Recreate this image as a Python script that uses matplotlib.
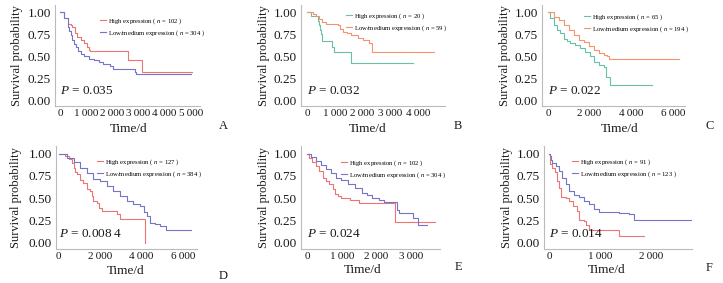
import matplotlib
matplotlib.use('Agg')
import matplotlib.pyplot as plt

# --- data (Kaplan-Meier steps) ---
a_high_t = [0, 160, 290, 410, 475, 575, 660, 790, 910, 1040, 1125, 1160, 2600, 3125, 5050]
a_high_s = [1.0, 0.93, 0.87, 0.85, 0.83, 0.77, 0.72, 0.68, 0.65, 0.61, 0.57, 0.555, 0.46, 0.32, 0.32]
a_low_t = [0, 160, 290, 350, 410, 475, 540, 600, 700, 790, 910, 1100, 1290, 1475, 1660, 1910, 2040, 2850, 2900, 5000]
a_low_s = [1.0, 0.93, 0.83, 0.79, 0.74, 0.68, 0.64, 0.60, 0.56, 0.53, 0.50, 0.47, 0.46, 0.44, 0.41, 0.385, 0.36, 0.32, 0.30, 0.30]

b_high_t = [0, 150, 380, 430, 470, 510, 550, 900, 960, 1580, 3820]
b_high_s = [1.0, 0.96, 0.90, 0.85, 0.80, 0.75, 0.67, 0.61, 0.55, 0.42, 0.42]
b_low_t = [0, 200, 320, 430, 550, 670, 1130, 1190, 1310, 1430, 1600, 1840, 2010, 2245, 2360, 4600]
b_low_s = [1.0, 0.98, 0.96, 0.92, 0.89, 0.87, 0.85, 0.81, 0.78, 0.76, 0.74, 0.71, 0.69, 0.65, 0.55, 0.55]

c_high_t = [0, 112, 272, 433, 593, 753, 913, 1074, 1314, 1554, 1795, 2035, 2195, 2436, 2676, 2788, 2997, 5000]
c_high_s = [1.0, 0.935, 0.86, 0.80, 0.76, 0.70, 0.67, 0.65, 0.63, 0.59, 0.55, 0.50, 0.44, 0.40, 0.38, 0.27, 0.17, 0.17]
c_low_t = [0, 272, 513, 753, 994, 1234, 1474, 1715, 1955, 2195, 2436, 2676, 2837, 2917, 6300]
c_low_s = [1.0, 0.95, 0.91, 0.86, 0.80, 0.74, 0.69, 0.66, 0.62, 0.57, 0.54, 0.52, 0.50, 0.47, 0.47]

d_high_t = [0, 320, 480, 640, 720, 800, 880, 1040, 1200, 1360, 1520, 1600, 1680, 1840, 1968, 2080, 2832, 2960, 4150]
d_high_s = [1.0, 0.97, 0.94, 0.90, 0.84, 0.79, 0.77, 0.71, 0.67, 0.60, 0.58, 0.52, 0.47, 0.45, 0.39, 0.36, 0.32, 0.27, 0.0]
d_low_t = [0, 400, 720, 1040, 1360, 1680, 2000, 2320, 2640, 2960, 3280, 3600, 3920, 4112, 4240, 4400, 4640, 4880, 5200, 6400]
d_low_s = [1.0, 0.955, 0.91, 0.84, 0.78, 0.72, 0.69, 0.64, 0.58, 0.52, 0.47, 0.43, 0.41, 0.34, 0.30, 0.22, 0.21, 0.19, 0.14, 0.14]

e_high_t = [0, 49, 147, 246, 344, 442, 541, 639, 737, 806, 885, 964, 1229, 1495, 2530, 3690]
e_high_s = [1.0, 0.955, 0.91, 0.86, 0.81, 0.73, 0.69, 0.66, 0.60, 0.55, 0.52, 0.50, 0.48, 0.45, 0.23, 0.23]
e_low_t = [0, 98, 246, 393, 541, 688, 836, 983, 1180, 1377, 1573, 1721, 1868, 2065, 2212, 2580, 2640, 3050, 3200, 3450]
e_low_s = [1.0, 0.96, 0.92, 0.87, 0.83, 0.78, 0.73, 0.70, 0.66, 0.62, 0.56, 0.54, 0.50, 0.48, 0.46, 0.37, 0.33, 0.28, 0.20, 0.20]

f_high_t = [0, 13, 66, 118, 164, 197, 230, 328, 393, 459, 538, 577, 689, 721, 787, 1377, 1869]
f_high_s = [1.0, 0.88, 0.84, 0.79, 0.69, 0.62, 0.51, 0.50, 0.47, 0.41, 0.36, 0.25, 0.24, 0.20, 0.14, 0.08, 0.08]
f_low_t = [0, 13, 33, 66, 131, 197, 262, 328, 393, 492, 590, 689, 787, 885, 984, 1377, 1574, 1672, 2800]
f_low_s = [1.0, 0.97, 0.93, 0.90, 0.86, 0.81, 0.73, 0.66, 0.58, 0.54, 0.51, 0.47, 0.43, 0.38, 0.35, 0.33, 0.32, 0.26, 0.26]

n_high = [102, 20, 65, 127, 102, 91]
n_low = [304, 59, 194, 384, 304, 123]
p_values = ['0.035', '0.032', '0.022', '0.008\u20094', '0.024', '0.014']
letters = ['A', 'B', 'C', 'D', 'E', 'F']
y_ticks = [0.0, 0.25, 0.5, 0.75, 1.0]
x_ticks = [[0, 1000, 2000, 3000, 4000, 5000], [0, 1000, 2000, 3000, 4000],
           [0, 2000, 4000, 6000], [0, 2000, 4000, 6000],
           [0, 1000, 2000, 3000], [0, 1000, 2000]]

curves = [(a_high_t, a_high_s, a_low_t, a_low_s),
          (b_high_t, b_high_s, b_low_t, b_low_s),
          (c_high_t, c_high_s, c_low_t, c_low_s),
          (d_high_t, d_high_s, d_low_t, d_low_s),
          (e_high_t, e_high_s, e_low_t, e_low_s),
          (f_high_t, f_high_s, f_low_t, f_low_s)]

# --- layout (pixels) ---
W, H = 723, 283
boxes = [(55, 200, 5, 106), (301, 445, 5, 106), (542, 685, 5, 106),
         (56, 197, 146, 249), (301, 440, 146, 249), (544, 692, 146, 249)]
xlims = [(-190, 5350), (-220, 4980), (-290, 6590), (-125, 6670), (-180, 3830), (-100, 2800)]
ylims = [(-0.065, 1.083)] * 3 + [(-0.071, 1.087)] * 3
legend_xy = [(100, 16), (346, 11), (584, 12), (97, 157), (341, 158), (572, 157)]
ylabel_x = [17, 264, 505, 16, 264, 507]
xlabel_xy = [(129, 129), (368, 129), (620, 129), (126, 271), (363, 270), (607, 270)]
letter_xy = [(223, 126), (458, 126), (710, 126), (223, 276), (458, 267), (709, 268)]

red, blue = '#EE7373', '#7474C8'
green, orange = '#66C2A5', '#F4956C'
colors = [(red, blue), (green, orange), (green, orange), (red, blue), (red, blue), (red, blue)]

plt.rcParams['font.family'] = ['Liberation Serif', 'DejaVu Serif']
plt.rcParams['mathtext.fontset'] = 'custom'
plt.rcParams['mathtext.rm'] = 'Liberation Serif'
plt.rcParams['mathtext.it'] = 'Liberation Serif:italic'

txt = '#1a1a1a'
fig = plt.figure(figsize=(W / 100, H / 100), dpi=100)

for i in range(6):
    l, r, t, b = boxes[i]
    ax = fig.add_axes([l / W, 1 - b / H, (r - l) / W, (b - t) / H])
    ht, hs, lt, ls = curves[i]
    c_hi, c_lo = colors[i]
    ax.step(ht, hs, where='post', color=c_hi, lw=0.8,
            label=r'High expression ( $n$ = %d )' % n_high[i])
    ax.step(lt, ls, where='post', color=c_lo, lw=0.8,
            label=r'Low/medium expression ( $n$ = %d )' % n_low[i])
    ax.set_xlim(*xlims[i])
    ax.set_ylim(*ylims[i])
    ax.set_yticks(y_ticks)
    ax.set_yticklabels(['%.2f' % v for v in y_ticks], fontsize=9.5, color=txt)
    ax.set_xticks(x_ticks[i])
    ax.set_xticklabels([('{:,}'.format(v)).replace(',', '\u2009') for v in x_ticks[i]],
                       fontsize=8, color=txt)
    ax.tick_params(length=0, pad=3)
    ax.tick_params(axis='x', pad=2)
    for s in ['top', 'right']:
        ax.spines[s].set_visible(False)
    for s in ['left', 'bottom']:
        ax.spines[s].set_color('#bbbbbb')
        ax.spines[s].set_linewidth(0.8)

    ax.set_ylabel('Survival probability', fontsize=9, color=txt)
    ax.yaxis.set_label_coords((ylabel_x[i] + 6 - l) / (r - l), 0.5)
    ax.set_xlabel('Time/d', fontsize=9.5, color=txt)
    lx, ly = xlabel_xy[i]
    ax.xaxis.set_label_coords((lx - l) / (r - l), (b - (ly - 6)) / (b - t))

    ax.text(0, 0.10, r'$P$ = ' + p_values[i], fontsize=9.5, color=txt,
            ha='left', va='center')

    gx, gy = legend_xy[i]
    ax.legend(loc='upper left', bbox_to_anchor=(gx / W, 1 - gy / H),
              bbox_transform=fig.transFigure, frameon=False, fontsize=4.8,
              handlelength=0.9, handletextpad=0.3, labelspacing=0.4,
              borderpad=0, borderaxespad=0)

    fx, fy = letter_xy[i]
    fig.text(fx / W, 1 - fy / H, letters[i], fontsize=9, color=txt,
             ha='center', va='center')

fig.savefig('out.png', dpi=100)
